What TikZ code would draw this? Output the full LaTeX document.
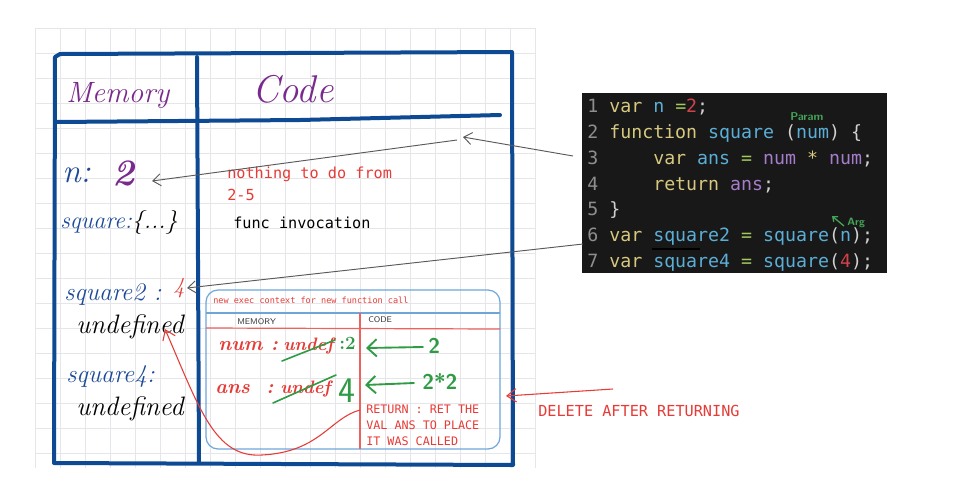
\documentclass[tikz,border=0pt]{standalone}
\usepackage{fontspec}
\usetikzlibrary{arrows.meta}
\newfontfamily\codefont{DejaVu Sans Mono}
\definecolor{boxblue}{HTML}{0E4A93}
\definecolor{gridgray}{HTML}{E6E6EA}
\definecolor{purp}{HTML}{7A2A8C}
\definecolor{handblue}{HTML}{1C4A98}
\definecolor{hred}{HTML}{E63B36}
\definecolor{hgreen}{HTML}{2F9B45}
\definecolor{linkgray}{HTML}{5A5A5A}
\definecolor{innerblue}{HTML}{6EA6DA}
\definecolor{codebg}{HTML}{181818}
\definecolor{ckwc}{HTML}{D6C87E}
\definecolor{cidc}{HTML}{5BAED6}
\definecolor{cnmc}{HTML}{D2424A}
\definecolor{cpac}{HTML}{A67DCB}
\definecolor{ceqc}{HTML}{A3C95C}
\definecolor{cpuc}{HTML}{D0D0D0}
\definecolor{clnc}{HTML}{8E8E8E}
\newcommand\ckw[1]{\textcolor{ckwc}{#1}}
\newcommand\cid[1]{\textcolor{cidc}{#1}}
\newcommand\cnm[1]{\textcolor{cnmc}{#1}}
\newcommand\cpa[1]{\textcolor{cpac}{#1}}
\newcommand\ceq[1]{\textcolor{ceqc}{#1}}
\newcommand\cpu[1]{\textcolor{cpuc}{#1}}
\newcommand\cln[1]{\textcolor{clnc}{#1}}
\begin{document}
\begin{tikzpicture}[x=0.75pt,y=-0.75pt,
  boxline/.style={draw=boxblue, line width=3pt, line cap=round, line join=round},
  gridline/.style={draw=gridgray, line width=0.6pt},
  graylink/.style={draw=linkgray, line width=0.7pt, -{Straight Barb[length=6pt,width=9pt]}},
  redlink/.style={draw=hred, line width=0.8pt, -{Straight Barb[length=7pt,width=10pt]}},
  greenarrow/.style={draw=hgreen, line width=1.4pt, line cap=round, -{Straight Barb[length=7pt,width=13pt]}},
  txt/.style={inner sep=0pt, anchor=base west},
  hand/.style={txt, font=\itshape},
  mono/.style={txt, font=\codefont\fontsize{11.4}{13}\selectfont},
  codeline/.style={txt, font=\codefont\fontsize{13.7}{16}\selectfont},
]
\useasboundingbox (0,0) rectangle (972,487);
\fill[white] (0,0) rectangle (972,487);
% grid
\foreach \gx in {35,60,...,535} \draw[gridline] (\gx,28) -- (\gx,468);
\foreach \gy in {28,53,...,468} \draw[gridline] (35,\gy) -- (535,\gy);
% main frame
\draw[boxline] (55,57) -- (60,54) -- (512,52) -- (513,465) -- (54,463) -- cycle;
\draw[boxline] (55,122) -- (300,120) -- (500,115);
\draw[boxline] (197,57) -- (199,463);
% headers
\node[hand, text=purp, font=\itshape\fontsize{22}{24}\selectfont] (memh) at (66,102) {Memory};
\node[hand, text=purp, font=\itshape\fontsize{29}{32}\selectfont] (codeh) at (252,102) {Code};
% memory column
\node[hand, text=handblue, font=\itshape\fontsize{25}{28}\selectfont] (nlab) at (62,182) {n:};
\node[hand, text=purp, font=\bfseries\itshape\fontsize{28}{30}\selectfont] (nval) at (112,185) {2};
\node[hand, text=handblue, font=\itshape\fontsize{18}{22}\selectfont] (sqlab) at (60,228) {square:\textcolor{black}{\{...\}}};
\node[hand, text=handblue, font=\itshape\fontsize{19}{22}\selectfont] (sq2lab) at (64,300) {square2 :};
\node[hand, text=hred, font=\itshape\fontsize{17}{20}\selectfont] (sq2val) at (173,293) {4};
\node[hand, text=black, font=\itshape\fontsize{20}{24}\selectfont] (und1) at (76,333) {undefined};
\node[hand, text=handblue, font=\itshape\fontsize{19}{22}\selectfont] (sq4lab) at (66,382) {square4:};
\node[hand, text=black, font=\itshape\fontsize{20}{24}\selectfont] (und2) at (76,415) {undefined};
% code column
\node[mono, text=hred] (noth1) at (227,178) {nothing to do from};
\node[mono, text=hred] (noth2) at (227,200) {2-5};
\node[mono, text=black] (finv) at (233,228) {func invocation};
% inner execution context
\draw[innerblue, line width=0.9pt, rounded corners=9pt] (206,290) rectangle (500,449);
\draw[innerblue, line width=1pt] (206,313) -- (500,313);
\draw[hred!80, line width=0.9pt] (206,328) -- (500,329);
\draw[hred!80, line width=0.9pt] (360,313) -- (360,449);
\node[txt, text=hred, font=\codefont\fontsize{6.4}{8}\selectfont] (ctxt) at (213,303) {new exec context for new function call};
\node[txt, text=black!80, font=\sffamily\fontsize{6.2}{8}\selectfont] (imem) at (237,324) {MEMORY};
\node[txt, text=black!80, font=\sffamily\fontsize{6.2}{8}\selectfont] (icode) at (368,322) {CODE};
\node[hand, text=hred, font=\bfseries\itshape\fontsize{15}{18}\selectfont] (numl) at (218,350) {num :};
\node[hand, text=hred, font=\bfseries\itshape\fontsize{13.5}{18}\selectfont] (numu) at (283,350) {undef};
\node[hand, text=hgreen, font=\bfseries\fontsize{14}{16}\selectfont] (numv) at (339,349) {:2};
\node[hand, text=hred, font=\bfseries\itshape\fontsize{15}{18}\selectfont] (ansl) at (215,393) {ans \ :};
\node[hand, text=hred, font=\bfseries\itshape\fontsize{13.5}{18}\selectfont] (ansu) at (280,393) {undef};
\node[hand, text=hgreen, font=\sffamily\fontsize{27}{30}\selectfont] (ansv) at (338,402) {4};
\draw[hgreen, line width=1.2pt, line cap=round] (282,361) -- (335,340);
\draw[hgreen, line width=1.2pt, line cap=round] (273,403) -- (336,375);
\node[hand, text=hgreen, font=\bfseries\sffamily\fontsize{16}{18}\selectfont] (arg2) at (428,353) {2};
\node[hand, text=hgreen, font=\bfseries\sffamily\fontsize{16}{18}\selectfont] (mul) at (422,389) {2*2};
\coordinate (g1s) at (423,347);
\coordinate (g1e) at (366,348);
\coordinate (g2s) at (414,383);
\coordinate (g2e) at (365,385);
\draw[greenarrow] (g1s) -- (g1e);
\draw[greenarrow] (g2s) -- (g2e);
\node[txt, text=hred, font=\codefont\fontsize{8.8}{10}\selectfont] (ret1) at (366,413) {RETURN : RET THE};
\node[txt, text=hred, font=\codefont\fontsize{8.8}{10}\selectfont] (ret2) at (366,429) {VAL ANS TO PLACE};
\node[txt, text=hred, font=\codefont\fontsize{8.8}{10}\selectfont] (ret3) at (366,445) {IT WAS CALLED};
% return curve
\coordinate (rcs) at (360,410);
\coordinate (rce) at (165,329);
\draw[redlink] (rcs) .. controls (330,418) and (320,452) .. (262,455) .. controls (215,458) and (200,410) .. (rce);
% delete note
\node[mono, text=hred] (del) at (538,416) {DELETE AFTER RETURNING};
\coordinate (ds) at (613,389);
\coordinate (de) at (506,396);
\draw[redlink] (ds) -- (de);
% code panel
\fill[codebg] (582,93) rectangle (887,273);
\node[codeline] (l1) at (587,112) {\cln{1}\ \ckw{var}\ \cid{n}\ \ceq{=}\cnm{2}\cpu{;}};
\node[codeline] (l2) at (587,138) {\cln{2}\ \ckw{function}\ \cid{square}\ \cpu{(}\cid{num}\cpu{)}\ \cpu{\{}};
\node[codeline] (l3) at (587,164) {\cln{3}\ \ \ \ \ \ckw{var}\ \cid{ans}\ \ceq{=}\ \cpa{num}\ \ckw{*}\ \cpa{num}\cpu{;}};
\node[codeline] (l4) at (587,190) {\cln{4}\ \ \ \ \ \ckw{return}\ \cpa{ans}\cpu{;}};
\node[codeline] (l5) at (587,215) {\cln{5}\ \cpu{\}}};
\node[codeline] (l6) at (587,241) {\cln{6}\ \ckw{var}\ \cid{square2}\ \ceq{=}\ \cid{square}\cpu{(}\cid{n}\cpu{)}\cpu{;}};
\node[codeline] (l7) at (587,267) {\cln{7}\ \ckw{var}\ \cid{square4}\ \ceq{=}\ \cid{square}\cpu{(}\cnm{4}\cpu{)}\cpu{;}};
\draw[black, line width=1pt] (652,249) -- (700,249);
\node[txt, text=hgreen!90!white, font=\bfseries\sffamily\fontsize{8.5}{10}\selectfont] (param) at (790,120) {Param};
\node[txt, text=hgreen!90!white, font=\bfseries\sffamily\fontsize{8}{10}\selectfont] (argl) at (847,225) {Arg};
\coordinate (argtip) at (832,216);
\coordinate (argtail) at (844,226);
\draw[hgreen!90!white, line width=1pt, -{Straight Barb[length=3pt,width=5pt]}] (argtail) -- (argtip);
% gray links
\coordinate (c1s) at (573,156);
\coordinate (c1e) at (463,137);
\coordinate (c2s) at (457,140);
\coordinate (c2e) at (152,181);
\coordinate (c3s) at (583,244);
\coordinate (c3e) at (187,288);
\draw[graylink] (c1s) -- (c1e);
\draw[graylink] (c2s) -- (c2e);
\draw[graylink] (c3s) -- (c3e);
\end{tikzpicture}
\end{document}
